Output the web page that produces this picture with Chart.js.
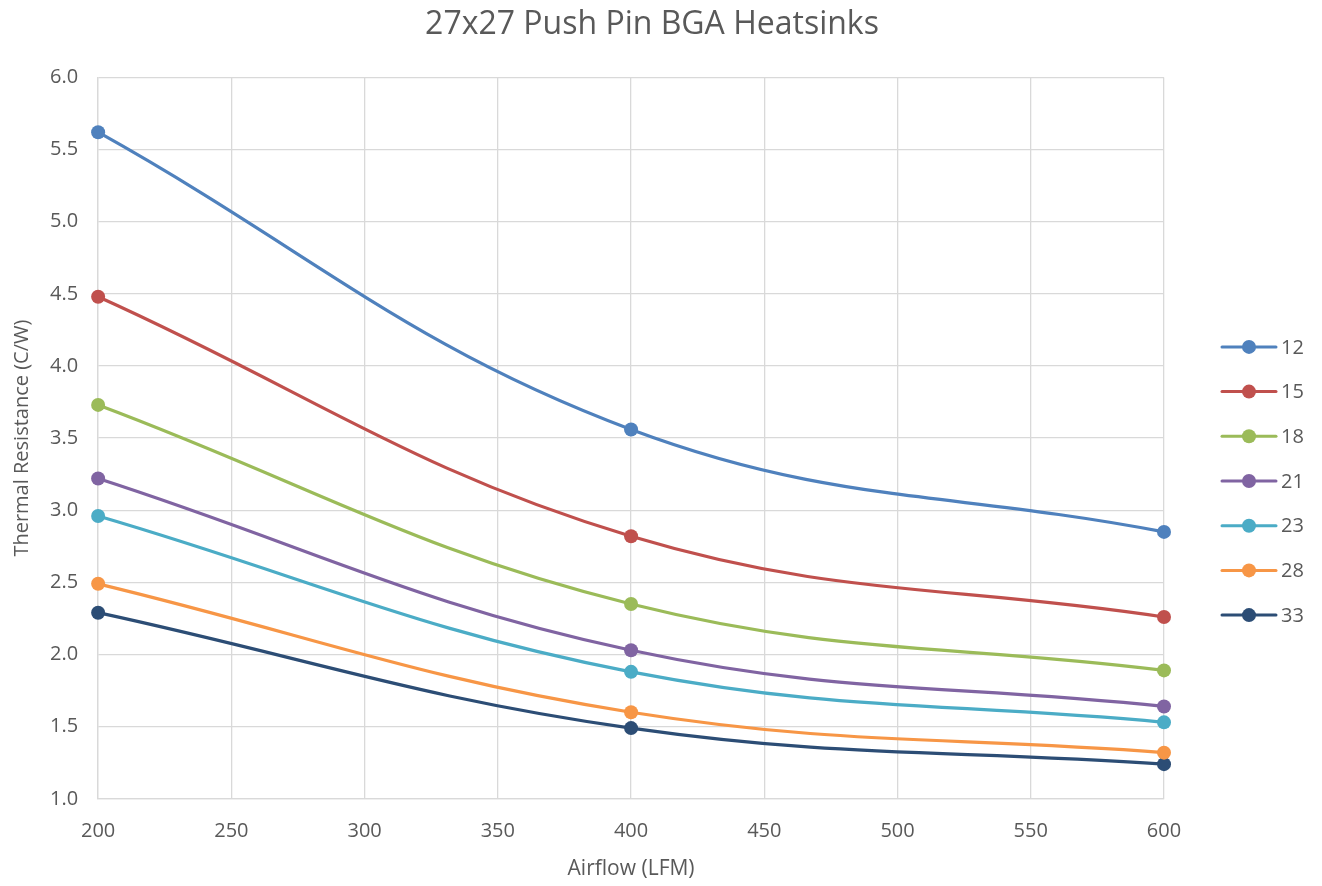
<!DOCTYPE html>
<html>
<head>
<meta charset="utf-8">
<script src="https://cdn.jsdelivr.net/npm/chart.js@4.4.1/dist/chart.umd.min.js"></script>
<style>
  html, body { margin: 0; background: #fff; }
  #wrap { width: 1322px; height: 886px; }
</style>
</head>
<body>
<div id="wrap"><canvas id="chart"></canvas></div>
<script>
/* 27x27 push pin BGA heatsinks - thermal resistance vs airflow */

const airflow = [200, 400, 600];
const finHeights = ['12', '15', '18', '21', '23', '28', '33'];
const r12 = [5.62, 3.56, 2.85];
const r15 = [4.48, 2.82, 2.26];
const r18 = [3.73, 2.35, 1.89];
const r21 = [3.22, 2.03, 1.64];
const r23 = [2.96, 1.88, 1.53];
const r28 = [2.49, 1.60, 1.32];
const r33 = [2.29, 1.49, 1.24];
const yTicks = [1.0, 1.5, 2.0, 2.5, 3.0, 3.5, 4.0, 4.5, 5.0, 5.5, 6.0];

const series = [r12, r15, r18, r21, r23, r28, r33];
const colors = ['#4F81BD', '#C0504D', '#9BBB59', '#8064A2', '#4BACC6', '#F79646', '#2C4D75'];
const FONT = '"Open Sans", "Liberation Sans", sans-serif';
const TEXT = '#595959';
const GRID = '#D9D9D9';

// legend on the right: line + marker + label, like excel
const sideLegend = {
  id: 'sideLegend',
  afterDraw(chart) {
    const ctx = chart.ctx;
    const a = chart.chartArea;
    const x0 = a.right + 58, x1 = a.right + 112, cx = a.right + 85, tx = a.right + 117;
    const step = 44.7;
    const n = chart.data.datasets.length;
    const yMid = 481;
    ctx.save();
    chart.data.datasets.forEach((ds, i) => {
      const y = yMid + (i - (n - 1) / 2) * step;
      ctx.strokeStyle = ds.borderColor;
      ctx.lineWidth = 3;
      ctx.lineCap = 'round';
      ctx.beginPath(); ctx.moveTo(x0, y); ctx.lineTo(x1, y); ctx.stroke();
      ctx.fillStyle = ds.borderColor;
      ctx.beginPath(); ctx.arc(cx, y, 7, 0, Math.PI * 2); ctx.fill();
      ctx.fillStyle = TEXT;
      ctx.font = '20px ' + FONT;
      ctx.textBaseline = 'middle';
      ctx.textAlign = 'left';
      ctx.fillText(ds.label, tx, y + 1);
    });
    ctx.restore();
  }
};

new Chart(document.getElementById('chart'), {
  type: 'line',
  data: {
    datasets: finHeights.map((name, i) => ({
      label: name,
      data: airflow.map((x, j) => ({ x, y: series[i][j] })),
      borderColor: colors[i],
      backgroundColor: colors[i],
      pointBackgroundColor: colors[i],
      pointBorderWidth: 0,
      pointRadius: 7,
      borderWidth: 3.2,
      tension: 0.4,
      fill: false,
      clip: false
    }))
  },
  options: {
    responsive: true,
    maintainAspectRatio: false,
    animation: false,
    layout: { padding: { left: 10, right: 28, top: 0, bottom: 0 } },
    plugins: {
      legend: { display: false },
      tooltip: { enabled: false },
      title: {
        display: true,
        text: '27x27 Push Pin BGA Heatsinks',
        color: TEXT,
        font: { family: FONT, size: 32, weight: 'normal' },
        padding: { top: 6, bottom: 33 }
      }
    },
    scales: {
      x: {
        type: 'linear',
        min: 200, max: 600,
        ticks: { stepSize: 50, color: TEXT, font: { family: FONT, size: 20 }, padding: 20 },
        grid: { color: GRID, lineWidth: 1.3, drawTicks: false },
        border: { color: GRID, width: 1.3 },
        title: { display: true, text: 'Airflow (LFM)', color: TEXT, font: { family: FONT, size: 21 }, padding: { top: -6, bottom: 4 } }
      },
      y: {
        min: 1, max: 6,
        afterBuildTicks(axis) { axis.ticks = yTicks.map(v => ({ value: v })); },
        ticks: { color: TEXT, font: { family: FONT, size: 20 }, padding: 20, callback: v => v.toFixed(1) },
        grid: { color: GRID, lineWidth: 1.3, drawTicks: false },
        border: { color: GRID, width: 1.3 },
        title: { display: true, text: 'Thermal Resistance (C/W)', color: TEXT, font: { family: FONT, size: 20 }, padding: { top: 0, bottom: -4 } }
      },
      // empty axis that keeps room for the legend
      side: {
        position: 'right',
        min: 0, max: 1,
        grid: { display: false },
        border: { display: false },
        ticks: { display: false },
        afterFit(axis) { axis.width = 130; }
      }
    }
  },
  plugins: [sideLegend]
});
</script>
</body>
</html>
